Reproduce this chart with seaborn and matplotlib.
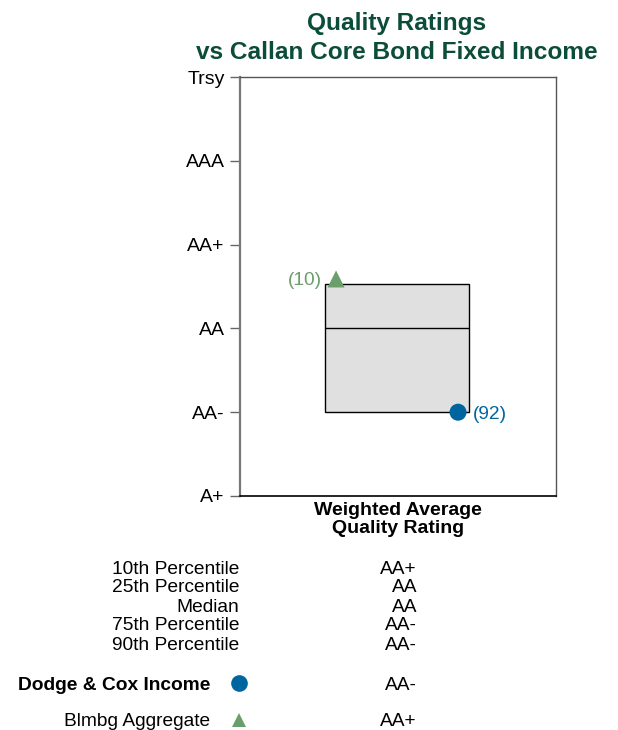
import matplotlib
matplotlib.use("Agg")
import matplotlib.pyplot as plt
import seaborn as sns
import pandas as pd

# ---- data ----
rating_labels = ["A+", "AA-", "AA", "AA+", "AAA", "Trsy"]
rating_values = [0, 1, 2, 3, 4, 5]

pct_names = ["10th Percentile", "25th Percentile", "Median", "75th Percentile", "90th Percentile"]
pct_values = [2.53, 2.0, 2.0, 1.0, 1.0]
pct_text = ["AA+", "AA", "AA", "AA-", "AA-"]

series_names = ["Dodge & Cox Income", "Blmbg Aggregate"]
series_values = [1.0, 2.59]
series_text = ["AA-", "AA+"]
series_ranks = ["(92)", "(10)"]
series_xpos = [0.69, 0.304]
series_colors = ["#00649f", "#6b9e6b"]
series_markers = ["o", "^"]

sns.set_style("white")
plt.rcParams["font.family"] = ["Liberation Sans", "DejaVu Sans"]
plt.rcParams["text.color"] = "black"
plt.rcParams["ytick.labelcolor"] = "black"
plt.rcParams["axes.labelcolor"] = "black"

W, H = 618, 730
fig = plt.figure(figsize=(W / 100, H / 100), dpi=100)
ax = fig.add_axes([240 / W, 1 - 496 / H, (556 - 240) / W, (496 - 77) / H])

# box: 10th to 90th percentile
box_left, box_right = 0.269, 0.725
ax.bar([(box_left + box_right) / 2], [pct_values[0] - pct_values[4]], bottom=[pct_values[4]],
       width=box_right - box_left, color="#e0e0e0", edgecolor="black", linewidth=1.0, zorder=2)
ax.hlines([pct_values[2]], box_left, box_right, color="black", linewidth=1.0, zorder=3)

df = pd.DataFrame({"name": series_names, "x": series_xpos, "y": series_values})
sns.scatterplot(data=df, x="x", y="y", hue="name", style="name",
                palette=dict(zip(series_names, series_colors)),
                markers=dict(zip(series_names, series_markers)),
                s=150, edgecolor="none", legend=False, ax=ax, zorder=4)

# rank labels
ax.annotate(series_ranks[0], (series_xpos[0], series_values[0]), xytext=(10.5, 0),
            textcoords="offset points", ha="left", va="center_baseline", color=series_colors[0], fontsize=13.8)
ax.annotate(series_ranks[1], (series_xpos[1], series_values[1]), xytext=(-10, 0),
            textcoords="offset points", ha="right", va="center_baseline", color=series_colors[1], fontsize=13.8)

ax.set_xlim(0, 1)
ax.set_ylim(0, 5)
ax.set_yticks(rating_values)
ax.set_yticklabels(rating_labels, fontsize=14)
ax.set_xticks([])
ax.set_xlabel("Weighted Average\nQuality Rating", fontsize=14, fontweight="bold",
              labelpad=4, linespacing=1.12)
ax.set_ylabel("")
ax.tick_params(axis="y", which="major", length=7, width=1, color="#666666", pad=4, left=True)

ax.spines["left"].set_color("#777777")
ax.spines["left"].set_linewidth(1.6)
ax.spines["bottom"].set_color("black")
ax.spines["bottom"].set_linewidth(1.2)
ax.spines["top"].set_color("#555555")
ax.spines["top"].set_linewidth(1.0)
ax.spines["right"].set_color("#555555")
ax.spines["right"].set_linewidth(1.0)

fig.text(397 / W, 1 - 38 / H, "Quality Ratings\nvs Callan Core Bond Fixed Income",
         ha="center", va="center", fontsize=17.6, fontweight="bold", color="#0b4d39", linespacing=1.3)

# table
row_y = [567, 586, 605, 624, 643]
for name, txt, y in zip(pct_names, pct_text, row_y):
    fig.text(239 / W, 1 - y / H, name, ha="right", va="center_baseline", fontsize=13.8)
    fig.text(417 / W, 1 - y / H, txt, ha="right", va="center_baseline", fontsize=13.8)

leg_y = [683, 720]
leg_weight = ["bold", "normal"]
leg_right = [210, 210]
for i in range(2):
    fig.text(leg_right[i] / W, 1 - leg_y[i] / H, series_names[i], ha="right", va="center_baseline",
             fontsize=13.8, fontweight=leg_weight[i])
    fig.text(417 / W, 1 - leg_y[i] / H, series_text[i], ha="right", va="center_baseline", fontsize=13.8)
    fig.lines.append(plt.Line2D([239 / W], [1 - leg_y[i] / H], transform=fig.transFigure,
                                marker=series_markers[i], color=series_colors[i],
                                markersize=12 if i == 0 else 10, linestyle="none",
                                markeredgewidth=0))

fig.savefig("out.png", dpi=100)
